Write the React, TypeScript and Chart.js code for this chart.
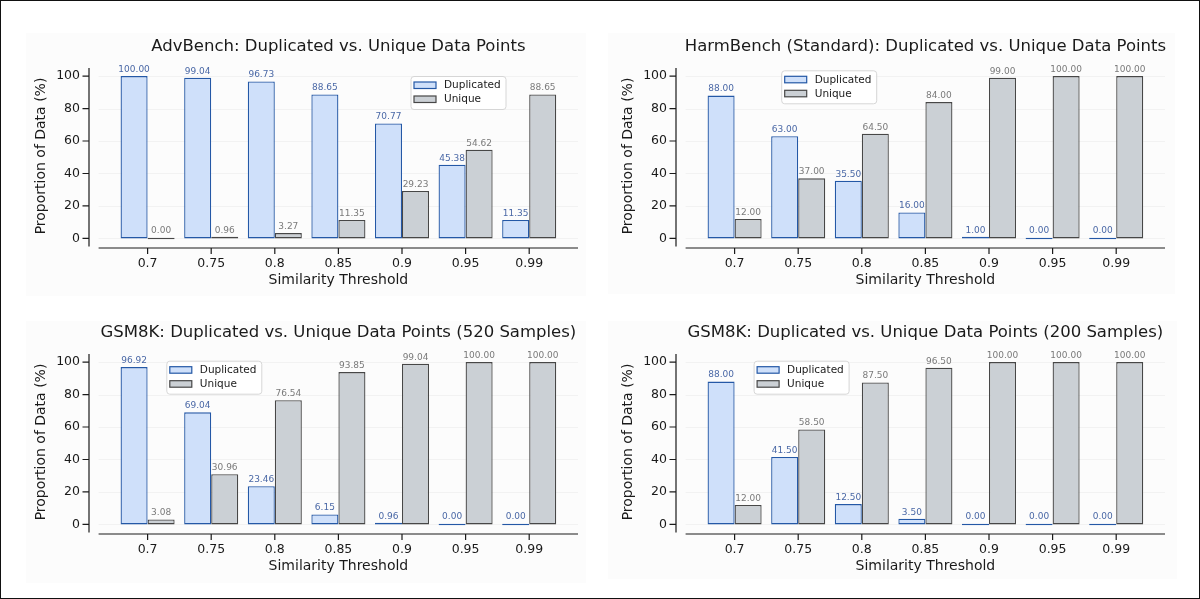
import { useEffect, useRef } from 'react'
import { Chart, ChartConfiguration, Plugin, registerables } from 'chart.js'

Chart.register(...registerables)

// ---- data ----
const thresholds = ['0.7', '0.75', '0.8', '0.85', '0.9', '0.95', '0.99']
const yTickValues = [0, 20, 40, 60, 80, 100]

const advDuplicated = [100, 99.04, 96.73, 88.65, 70.77, 45.38, 11.35]
const advUnique = [0, 0.96, 3.27, 11.35, 29.23, 54.62, 88.65]

const harmDuplicated = [88, 63, 35.5, 16, 1, 0, 0]
const harmUnique = [12, 37, 64.5, 84, 99, 100, 100]

const gsm520Duplicated = [96.92, 69.04, 23.46, 6.15, 0.96, 0, 0]
const gsm520Unique = [3.08, 30.96, 76.54, 93.85, 99.04, 100, 100]

const gsm200Duplicated = [88, 41.5, 12.5, 3.5, 0, 0, 0]
const gsm200Unique = [12, 58.5, 87.5, 96.5, 100, 100, 100]

// ---- style ----
const FONT = "'DejaVu Sans', sans-serif"
const DUP_FILL = '#cfe0fa'
const DUP_EDGE = '#2458a6'
const DUP_TEXT = '#4a68a6'
const UNI_FILL = '#cbd0d5'
const UNI_EDGE = '#474747'
const UNI_TEXT = '#7a7a7a'
const INK = '#1a1a1a'

const PANEL_W = 600
const PANEL_H = 300
const AREA = { left: 114.8, right: 560, top: 67, bottom: 245.5 }
const Y_AXIS_W = 100

interface PanelProps {
  title: string
  duplicated: number[]
  unique: number[]
  legendX: number
  legendY: number
  left: number
  top: number
}

function decorations(title: string, legendX: number, legendY: number): Plugin<'bar'> {
  return {
    id: 'decor',
    beforeDatasetsDraw(chart) {
      const { ctx, chartArea } = chart
      const y = chart.scales.y
      ctx.save()
      ctx.strokeStyle = '#efefef'
      ctx.lineWidth = 0.8
      for (const v of yTickValues) {
        const py = Math.round(y.getPixelForValue(v)) + 0.5
        ctx.beginPath()
        ctx.moveTo(chartArea.left - 17.2, py)
        ctx.lineTo(chartArea.right + 17, py)
        ctx.stroke()
      }
      ctx.restore()
    },
    afterDatasetsDraw(chart) {
      const { ctx } = chart
      ctx.save()
      ctx.font = `9px ${FONT}`
      ctx.textAlign = 'center'
      ctx.textBaseline = 'bottom'
      chart.data.datasets.forEach((ds, di) => {
        const meta = chart.getDatasetMeta(di)
        ctx.fillStyle = di === 0 ? DUP_TEXT : UNI_TEXT
        meta.data.forEach((bar, i) => {
          const v = ds.data[i] as number
          const props = bar.getProps(['x', 'y', 'base'], true) as any
          const topY = Math.min(props.y, props.base)
          ctx.fillText(v.toFixed(2), props.x, topY - 2)
        })
      })
      ctx.restore()
    },
    afterDraw(chart) {
      const { ctx, chartArea } = chart
      const x = chart.scales.x
      const y = chart.scales.y
      ctx.save()
      ctx.strokeStyle = INK
      ctx.lineWidth = 1.2

      // y spine + ticks (offset outward)
      const sx = chartArea.left - 26.8
      ctx.beginPath()
      ctx.moveTo(sx, chartArea.top)
      ctx.lineTo(sx, chartArea.bottom)
      for (const v of yTickValues) {
        const py = y.getPixelForValue(v)
        ctx.moveTo(sx - 6.5, py)
        ctx.lineTo(sx, py)
      }
      ctx.stroke()

      // x spine + ticks
      const sy = chartArea.bottom + 1.5
      ctx.beginPath()
      ctx.moveTo(chartArea.left - 17.2, sy)
      ctx.lineTo(chartArea.right + 17, sy)
      thresholds.forEach((_, i) => {
        const px = x.getPixelForValue(i)
        ctx.moveTo(px, sy)
        ctx.lineTo(px, sy + 6)
      })
      ctx.stroke()

      // titles
      const cx = (chartArea.left + chartArea.right) / 2
      ctx.fillStyle = INK
      ctx.textAlign = 'center'
      ctx.textBaseline = 'middle'
      ctx.font = `16.5px ${FONT}`
      ctx.fillText(title, cx, 46)
      ctx.font = `14px ${FONT}`
      ctx.fillText('Similarity Threshold', cx, 279)
      ctx.save()
      ctx.translate(40, 155)
      ctx.rotate(-Math.PI / 2)
      ctx.fillText('Proportion of Data (%)', 0, 0)
      ctx.restore()

      // legend
      const lw = 95
      const lh = 33
      ctx.beginPath()
      ctx.roundRect(legendX + 0.5, legendY + 0.5, lw, lh, 3)
      ctx.fillStyle = 'rgba(255,255,255,0.85)'
      ctx.fill()
      ctx.strokeStyle = '#d6d6d6'
      ctx.lineWidth = 1
      ctx.stroke()
      const items = [
        { label: 'Duplicated', fill: DUP_FILL, edge: DUP_EDGE, dy: 6 },
        { label: 'Unique', fill: UNI_FILL, edge: UNI_EDGE, dy: 20 },
      ]
      ctx.font = `10.5px ${FONT}`
      ctx.textAlign = 'left'
      for (const it of items) {
        ctx.fillStyle = it.fill
        ctx.fillRect(legendX + 3.5, legendY + it.dy, 22, 6.5)
        ctx.strokeStyle = it.edge
        ctx.lineWidth = 1.2
        ctx.strokeRect(legendX + 3.5, legendY + it.dy, 22, 6.5)
        ctx.fillStyle = INK
        ctx.fillText(it.label, legendX + 33.5, legendY + it.dy + 3.5)
      }
      ctx.restore()
    },
  }
}

function Panel({ title, duplicated, unique, legendX, legendY, left, top }: PanelProps) {
  const canvasRef = useRef<HTMLCanvasElement>(null)

  useEffect(() => {
    if (!canvasRef.current) return
    const config: ChartConfiguration<'bar'> = {
      type: 'bar',
      data: {
        labels: thresholds,
        datasets: [
          {
            label: 'Duplicated',
            data: duplicated,
            backgroundColor: DUP_FILL,
            borderColor: DUP_EDGE,
            borderWidth: 1.3,
            borderSkipped: false,
            minBarLength: 1.5,
          },
          {
            label: 'Unique',
            data: unique,
            backgroundColor: UNI_FILL,
            borderColor: UNI_EDGE,
            borderWidth: 1.3,
            borderSkipped: false,
            minBarLength: 1.5,
          },
        ],
      },
      options: {
        responsive: false,
        animation: false,
        devicePixelRatio: 1,
        categoryPercentage: 0.85,
        barPercentage: 1,
        layout: {
          padding: {
            left: AREA.left - Y_AXIS_W,
            right: PANEL_W - AREA.right,
            top: AREA.top,
            bottom: 0,
          },
        },
        plugins: {
          legend: { display: false },
          title: { display: false },
          tooltip: { enabled: false },
        },
        scales: {
          x: {
            grid: { display: false, drawTicks: false },
            border: { display: false },
            ticks: { color: INK, font: { family: FONT, size: 12.5 }, padding: 9.5, maxRotation: 0 },
            afterFit: (s) => {
              s.height = PANEL_H - AREA.bottom
            },
          },
          y: {
            min: -5,
            max: 105,
            grid: { display: false, drawTicks: false },
            border: { display: false },
            ticks: { color: INK, font: { family: FONT, size: 12.5 }, padding: AREA.left - 79 },
            afterBuildTicks: (s) => {
              s.ticks = yTickValues.map((v) => ({ value: v }))
            },
            afterFit: (s) => {
              s.width = Y_AXIS_W
            },
          },
        },
      },
      plugins: [decorations(title, legendX, legendY)],
    }
    const chart = new Chart(canvasRef.current, config)
    return () => chart.destroy()
  }, [title, duplicated, unique, legendX, legendY])

  return (
    <canvas
      ref={canvasRef}
      width={PANEL_W}
      height={PANEL_H}
      style={{ position: 'absolute', left, top, width: PANEL_W, height: PANEL_H }}
    />
  )
}

const panelBg: React.CSSProperties = { position: 'absolute', background: '#fcfcfc' }

export default function App() {
  useEffect(() => {
    document.body.style.margin = '0'
  }, [])

  return (
    <div
      style={{
        position: 'relative',
        width: 1200,
        height: 599,
        boxSizing: 'border-box',
        border: '1px solid #111',
        background: '#fff',
        overflow: 'hidden',
      }}
    >
      <div style={{ ...panelBg, left: 25, top: 32, width: 560, height: 263 }} />
      <div style={{ ...panelBg, left: 607, top: 32, width: 567, height: 261 }} />
      <div style={{ ...panelBg, left: 25, top: 320, width: 560, height: 262 }} />
      <div style={{ ...panelBg, left: 607, top: 320, width: 569, height: 258 }} />
      <Panel
        title="AdvBench: Duplicated vs. Unique Data Points"
        duplicated={advDuplicated}
        unique={advUnique}
        legendX={409.5}
        legendY={75}
        left={0}
        top={0}
      />
      <Panel
        title="HarmBench (Standard): Duplicated vs. Unique Data Points"
        duplicated={harmDuplicated}
        unique={harmUnique}
        legendX={193.2}
        legendY={69.3}
        left={587.4}
        top={0}
      />
      <Panel
        title="GSM8K: Duplicated vs. Unique Data Points (520 Samples)"
        duplicated={gsm520Duplicated}
        unique={gsm520Unique}
        legendX={165.3}
        legendY={73.7}
        left={0}
        top={286.3}
      />
      <Panel
        title="GSM8K: Duplicated vs. Unique Data Points (200 Samples)"
        duplicated={gsm200Duplicated}
        unique={gsm200Unique}
        legendX={165.6}
        legendY={73.7}
        left={587.4}
        top={286.3}
      />
    </div>
  )
}
